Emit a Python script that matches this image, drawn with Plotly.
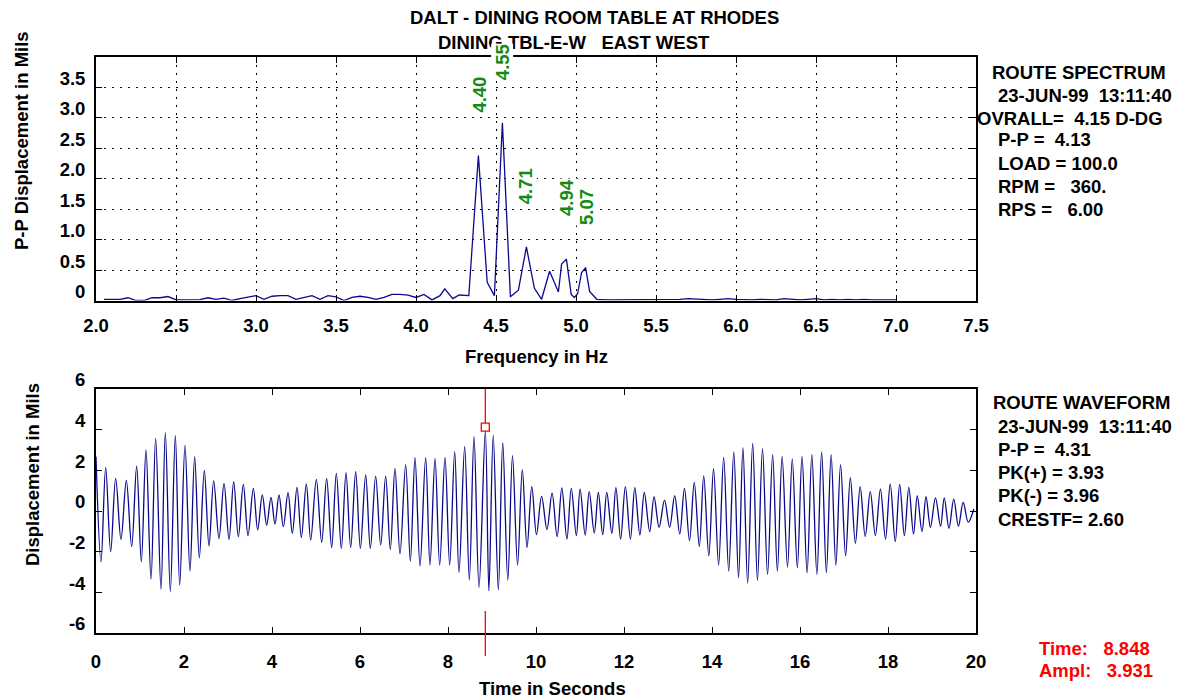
import plotly.graph_objects as go

W, H = 1178, 700

# ---- spectrum (route spectrum, P-P mils vs Hz)
spec_freq = [2.05, 2.10, 2.15, 2.20, 2.25, 2.30, 2.35, 2.40, 2.45, 2.50,
             2.55, 2.60, 2.65, 2.70, 2.75, 2.80, 2.85, 2.90, 2.95, 3.00,
             3.05, 3.10, 3.15, 3.20, 3.25, 3.30, 3.35, 3.40, 3.45, 3.50,
             3.55, 3.60, 3.65, 3.70, 3.75, 3.80, 3.85, 3.90, 3.95, 4.00,
             4.05, 4.10, 4.15, 4.18, 4.23, 4.27, 4.33, 4.39, 4.445, 4.49,
             4.54, 4.59, 4.64, 4.69, 4.74, 4.785, 4.835, 4.89, 4.91, 4.94,
             4.97, 4.99, 5.01, 5.035, 5.06, 5.085, 5.13, 5.20, 5.25, 5.30,
             5.35, 5.40, 5.45, 5.50, 5.55, 5.60, 5.65, 5.70, 5.75, 5.80,
             5.85, 5.90, 5.95, 6.00, 6.05, 6.10, 6.15, 6.20, 6.25, 6.30,
             6.35, 6.40, 6.45, 6.50, 6.55, 6.60, 6.65, 6.70, 6.75, 6.80,
             6.85, 6.90, 6.95, 7.00]
spec_amp = [0.02, 0.02, 0.02, 0.045, 0.0, 0.0, 0.045, 0.045, 0.065, 0.01,
            0.01, 0.01, 0.015, 0.045, 0.02, 0.04, 0.0, 0.03, 0.05, 0.08,
            0.02, 0.07, 0.08, 0.08, 0.02, 0.05, 0.08, 0.02, 0.08, 0.06,
            0.0, 0.05, 0.07, 0.05, 0.02, 0.05, 0.10, 0.10, 0.09, 0.05,
            0.10, 0.01, 0.08, 0.19, 0.03, 0.09, 0.08, 2.38, 0.30, 0.08,
            2.92, 0.06, 0.17, 0.88, 0.20, 0.02, 0.48, 0.14, 0.60, 0.68,
            0.10, 0.05, 0.11, 0.46, 0.54, 0.15, 0.02, 0.01, 0.01, 0.02,
            0.01, 0.01, 0.02, 0.02, 0.01, 0.01, 0.02, 0.03, 0.02, 0.01,
            0.01, 0.02, 0.03, 0.02, 0.01, 0.01, 0.02, 0.01, 0.01, 0.03,
            0.02, 0.01, 0.02, 0.03, 0.01, 0.02, 0.01, 0.02, 0.01, 0.02,
            0.01, 0.01, 0.01, 0.01]
peak_labels = ["4.40", "4.55", "4.71", "4.94", "5.07"]
peak_freq = [4.40, 4.54, 4.69, 4.94, 5.065]
peak_amp = [2.38, 2.92, 0.88, 0.68, 0.54]

# ---- waveform (displacement mils vs seconds), peaks and troughs
wave_t = [0.000, 0.114, 0.220, 0.333, 0.447, 0.568, 0.689, 0.811, 0.924, 1.030,
          1.136, 1.250, 1.356, 1.477, 1.576, 1.689, 1.803, 1.902, 2.023, 2.136,
          2.242, 2.348, 2.462, 2.568, 2.674, 2.795, 2.909, 3.023, 3.129, 3.235,
          3.348, 3.455, 3.576, 3.674, 3.780, 3.879, 3.977, 4.068, 4.159, 4.258,
          4.364, 4.462, 4.568, 4.667, 4.780, 4.879, 5.008, 5.129, 5.242, 5.356,
          5.462, 5.576, 5.682, 5.788, 5.902, 6.008, 6.129, 6.235, 6.356, 6.470,
          6.583, 6.689, 6.795, 6.909, 7.038, 7.144, 7.250, 7.364, 7.492, 7.591,
          7.705, 7.811, 7.932, 8.038, 8.152, 8.250, 8.379, 8.485, 8.591, 8.705,
          8.848, 8.929, 9.028, 9.144, 9.244, 9.359, 9.466, 9.581, 9.689, 9.796,
          9.904, 10.011, 10.127, 10.249, 10.365, 10.480, 10.587, 10.702, 10.802, 10.917,
          11.002, 11.117, 11.209, 11.324, 11.417, 11.516, 11.609, 11.724, 11.816, 11.923,
          12.031, 12.146, 12.246, 12.361, 12.461, 12.584, 12.683, 12.798, 12.921, 13.037,
          13.152, 13.267, 13.374, 13.489, 13.597, 13.712, 13.812, 13.927, 14.035, 14.150,
          14.265, 14.380, 14.495, 14.603, 14.703, 14.810, 14.925, 15.033, 15.148, 15.263,
          15.378, 15.486, 15.593, 15.716, 15.824, 15.939, 16.046, 16.161, 16.269, 16.384,
          16.492, 16.599, 16.707, 16.814, 16.922, 17.037, 17.144, 17.259, 17.367, 17.482,
          17.597, 17.713, 17.828, 17.943, 18.050, 18.165, 18.265, 18.373, 18.473, 18.580,
          18.665, 18.772, 18.864, 18.964, 19.079, 19.194, 19.279, 19.386, 19.494, 19.601,
          19.709, 19.824, 19.950]
wave_v = [2.67, -2.50, 2.15, -2.00, 1.60, -1.40, 1.50, -1.75, 2.20, -2.50,
          3.00, -3.35, 3.57, -3.85, 3.85, -3.96, 3.70, -3.64, 3.23, -2.95,
          2.67, -2.30, 2.00, -1.72, 1.48, -1.36, 1.36, -1.40, 1.44, -1.26,
          1.31, -1.21, 1.11, -0.93, 0.79, -0.69, 0.67, -0.64, 0.79, -0.77,
          0.90, -1.10, 1.16, -1.30, 1.33, -1.43, 1.56, -1.54, 1.60, -1.80,
          1.85, -1.84, 1.89, -1.80, 1.93, -1.84, 1.77, -1.84, 1.72, -1.67,
          1.72, -1.89, 2.10, -2.11, 2.28, -2.46, 2.62, -2.70, 2.62, -2.66,
          2.59, -2.66, 2.64, -2.66, 2.92, -3.03, 3.16, -3.39, 3.66, -3.75,
          3.93, -3.92, 3.72, -3.87, 3.36, -3.40, 2.72, -2.66, 2.03, -1.79,
          1.20, -1.16, 0.73, -0.91, 0.88, -1.26, 1.13, -1.38, 1.11, -1.21,
          1.08, -1.18, 0.95, -1.08, 0.91, -1.16, 0.91, -1.10, 1.15, -1.38,
          1.20, -1.38, 1.15, -1.18, 0.91, -1.01, 0.70, -0.80, 0.53, -0.80,
          0.75, -1.13, 1.11, -1.46, 1.41, -1.74, 1.73, -2.21, 2.08, -2.66,
          2.64, -2.96, 2.91, -3.29, 3.11, -3.54, 3.32, -3.41, 3.07, -3.12,
          2.77, -2.96, 2.69, -2.76, 2.56, -2.79, 2.69, -3.04, 2.77, -3.12,
          2.91, -3.04, 2.77, -2.67, 2.28, -2.21, 1.64, -1.59, 1.20, -1.25,
          0.95, -1.21, 1.08, -1.38, 1.33, -1.51, 1.31, -1.21, 1.16, -1.13,
          0.75, -1.01, 0.70, -0.80, 0.65, -0.75, 0.65, -0.85, 0.58, -0.75,
          0.42, -0.55, 0.10]
cursor_t = 8.848
cursor_ampl = 3.931

spec_xticks = [2.0, 2.5, 3.0, 3.5, 4.0, 4.5, 5.0, 5.5, 6.0, 6.5, 7.0, 7.5]
spec_yticks = [0, 0.5, 1.0, 1.5, 2.0, 2.5, 3.0, 3.5]
spec_yticktext = ["0", "0.5", "1.0", "1.5", "2.0", "2.5", "3.0", "3.5"]
wave_xticks = [0, 2, 4, 6, 8, 10, 12, 14, 16, 18, 20]
wave_yticks = [-6, -4, -2, 0, 2, 4, 6]

NB = "\u00a0"
spectrum_info = ["ROUTE SPECTRUM",
                 "23-JUN-99" + NB * 2 + "13:11:40",
                 "OVRALL=" + NB * 2 + "4.15 D-DG",
                 "P-P =" + NB * 2 + "4.13",
                 "LOAD = 100.0",
                 "RPM =" + NB * 3 + "360.",
                 "RPS =" + NB * 3 + "6.00"]
waveform_info = ["ROUTE WAVEFORM",
                 "23-JUN-99" + NB * 2 + "13:11:40",
                 "P-P =" + NB * 2 + "4.31",
                 "PK(+) = 3.93",
                 "PK(-) = 3.96",
                 "CRESTF= 2.60"]
cursor_info = ["Time:" + NB * 3 + "8.848", "Ampl:" + NB * 3 + "3.931"]

FONT = "Liberation Sans, Arial, sans-serif"
FS = 18.5
NAVY = "#0a0a8a"
GREEN = "#138a13"
RED = "#ff0000"


# window pixel -> paper fraction
def px(x):
    return x / W


def py(y):
    return 1 - y / H


fig = go.Figure()
fig.add_trace(go.Scatter(x=spec_freq, y=spec_amp, mode="lines",
                         line=dict(color=NAVY, width=1.3), xaxis="x", yaxis="y",
                         hoverinfo="skip"))
fig.add_trace(go.Scatter(x=wave_t, y=wave_v, mode="lines",
                         line=dict(color=NAVY, width=1.3, shape="spline", smoothing=1),
                         xaxis="x2", yaxis="y2", hoverinfo="skip"))

tickfont = dict(family=FONT, size=FS, color="black", weight="bold")
common = dict(showline=True, linecolor="black", linewidth=1.8, mirror="ticks",
              ticks="inside", ticklen=6, tickwidth=1.2, tickcolor="black",
              zeroline=False, tickfont=tickfont, fixedrange=True, automargin=False)
dot = dict(showgrid=True, gridcolor="black", gridwidth=1, griddash="2px,6px")

fig.update_layout(
    width=W, height=H, margin=dict(l=0, r=0, t=0, b=0, autoexpand=False),
    paper_bgcolor="white", plot_bgcolor="white", showlegend=False,
    xaxis=dict(domain=[px(96), px(976)], range=[2.0, 7.5], anchor="y",
               tickvals=spec_xticks, ticktext=[f"{v:.1f}" for v in spec_xticks],
               ticklabelstandoff=7, **dot, **common),
    yaxis=dict(domain=[py(300.5), py(57)], range=[0, 4.0], anchor="x",
               tickvals=spec_yticks, ticktext=spec_yticktext,
               ticklabelstandoff=5, ticklabelshift=-9, **dot, **common),
    xaxis2=dict(domain=[px(96), px(976)], range=[0, 20], anchor="y2",
                tickvals=wave_xticks, ticktext=[str(v) for v in wave_xticks],
                ticklabelstandoff=11, showgrid=False, **common),
    yaxis2=dict(domain=[py(633), py(389)], range=[-6, 6], anchor="x2",
                tickvals=wave_yticks, ticktext=[str(v) for v in wave_yticks],
                ticklabelstandoff=5, ticklabelshift=-9, showgrid=False, **common),
)


def txt(text, x, y, color="black", xanchor="center", angle=0):
    fig.add_annotation(text=text, x=px(x), y=py(y), xref="paper", yref="paper",
                       xanchor=xanchor, yanchor="middle", showarrow=False,
                       textangle=angle,
                       font=dict(family=FONT, size=FS, color=color, weight="bold"))


# titles
txt("DALT - DINING ROOM TABLE AT RHODES", 594, 18)
txt("DINING TBL-E-W" + NB * 3 + "EAST WEST", 574, 42)
txt("Frequency in Hz", 536, 356)
txt("Time in Seconds", 552, 688)
txt("P-P Displacement in Mils", 22, 141, angle=-90)
txt("Displacement in Mils", 32, 475, angle=-90)

# info blocks
spec_pos = [(990, 72), (996, 96), (975, 118), (996, 140), (996, 163), (996, 186), (996, 209)]
for t, (x, y) in zip(spectrum_info, spec_pos):
    txt(t, x, y, xanchor="left")
wave_pos = [(991, 402), (996, 426), (996, 449), (996, 472), (996, 496), (996, 519)]
for t, (x, y) in zip(waveform_info, wave_pos):
    txt(t, x, y, xanchor="left")
for t, y in zip(cursor_info, [648, 670]):
    txt(t, 1037, y, color=RED, xanchor="left")

# peak labels on the spectrum
for lab, f, a in zip(peak_labels, peak_freq, peak_amp):
    fig.add_annotation(text=lab, x=f, y=a, xref="x", yref="y", showarrow=False,
                       textangle=-90, xanchor="center", yanchor="bottom", yshift=42,
                       bgcolor="white", borderpad=0,
                       font=dict(family=FONT, size=FS, color=GREEN, weight="bold"))

# cursor on the waveform
fig.add_shape(type="rect", xref="x2", yref="y2", xsizemode="pixel", ysizemode="pixel",
              xanchor=cursor_t, yanchor=cursor_ampl, x0=-4, x1=4, y0=0, y1=8,
              line=dict(color=RED, width=1.3), fillcolor="white")
fig.add_shape(type="line", xref="x2", yref="y2", ysizemode="pixel",
              x0=cursor_t, x1=cursor_t, yanchor=cursor_ampl, y0=8, y1=46,
              line=dict(color=RED, width=1.3))
fig.add_shape(type="line", xref="x2", yref="paper", x0=cursor_t, x1=cursor_t,
              y0=py(611), y1=py(656), line=dict(color=RED, width=1.3))

# drop the default 8px page margin so the 1178x700 figure fills the window exactly
fig.write_html("out.html", config={"displayModeBar": False},
               post_script="document.body.style.margin='0px';")
